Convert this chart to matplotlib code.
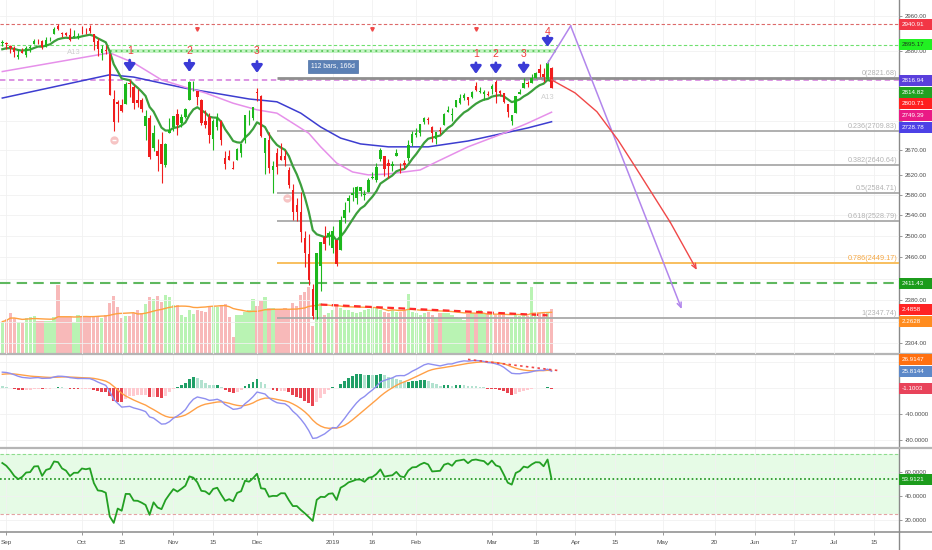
import numpy as np
import pandas as pd
import matplotlib
matplotlib.use('Agg')
import matplotlib.pyplot as plt
from matplotlib.patches import Rectangle
from matplotlib.lines import Line2D
from matplotlib.ticker import FixedLocator, NullLocator, FuncFormatter

plt.rcParams['font.family'] = ['Liberation Sans', 'DejaVu Sans']

# ------------------------------------------------------------------ data
holidays = ['2018-09-03', '2018-11-22', '2018-12-05', '2018-12-25',
            '2019-01-01', '2019-01-21', '2019-02-18']
dates = pd.bdate_range('2018-08-31', '2019-03-22')
dates = dates[~dates.isin(pd.to_datetime(holidays))]

open_ = [2898.37,
         2896.96, 2891.59, 2888.64, 2868.26, 2881.39, 2871.57, 2888.29, 2896.85, 2906.38, 2903.83,
         2890.74, 2906.60, 2919.73, 2936.76, 2921.83, 2921.75, 2916.98, 2911.65, 2910.03,
         2926.29, 2923.80, 2931.69, 2919.35, 2902.54, 2877.53, 2882.51, 2873.90, 2776.87, 2770.54,
         2763.83, 2767.05, 2811.67, 2802.00, 2775.66, 2773.94, 2721.03, 2737.87, 2674.88, 2667.86,
         2682.65, 2640.68, 2705.60,
         2717.58, 2745.45, 2726.37, 2738.40, 2774.13, 2806.38, 2794.10, 2773.93, 2730.05, 2737.90,
         2693.52, 2718.54, 2730.74, 2654.60, 2657.74, 2633.36, 2649.97, 2663.75, 2691.45, 2736.97,
         2737.76,
         2790.50, 2782.43, 2663.51, 2691.26, 2630.86, 2664.44, 2658.23, 2658.70, 2629.68, 2590.75,
         2559.90, 2547.05, 2496.77, 2465.38, 2400.56, 2363.12, 2442.50, 2498.77, 2498.94,
         2476.96, 2491.92, 2474.33, 2535.61, 2568.11, 2580.00, 2573.51, 2588.11, 2580.31, 2585.10,
         2614.75, 2609.28, 2651.27, 2657.88, 2643.48, 2638.84, 2657.44, 2644.97, 2644.89, 2653.62,
         2685.49,
         2702.32, 2706.49, 2728.34, 2735.05, 2717.53, 2692.36, 2712.40, 2722.61, 2750.30, 2743.50,
         2760.24, 2769.28, 2779.05, 2780.67, 2780.67, 2804.35, 2792.36, 2787.50, 2788.11,
         2798.22, 2814.37, 2794.41, 2790.27, 2766.53, 2730.79, 2747.61, 2787.34, 2799.78, 2810.38,
         2810.79, 2822.61, 2840.76, 2831.34, 2819.72, 2844.52]
high_ = [2906.32,
         2900.18, 2894.21, 2892.05, 2883.81, 2886.93, 2892.52, 2894.65, 2906.76, 2908.30, 2904.65,
         2911.17, 2912.36, 2934.80, 2940.91, 2923.79, 2923.95, 2931.15, 2927.22, 2920.53,
         2937.06, 2931.42, 2939.86, 2919.78, 2909.64, 2893.83, 2894.83, 2874.02, 2795.14, 2775.77,
         2775.99, 2813.46, 2816.94, 2806.04, 2797.77, 2778.94, 2753.59, 2742.59, 2722.70, 2692.38,
         2706.85, 2685.43, 2736.69,
         2741.67, 2756.55, 2744.27, 2756.82, 2815.15, 2814.75, 2794.10, 2775.99, 2754.60, 2746.80,
         2735.38, 2746.75, 2733.16, 2669.44, 2670.73, 2647.55, 2674.35, 2682.53, 2744.00, 2753.75,
         2760.88,
         2800.18, 2785.93, 2696.15, 2708.54, 2647.51, 2674.35, 2685.44, 2670.19, 2635.07, 2601.13,
         2573.99, 2585.29, 2509.63, 2504.41, 2410.34, 2467.76, 2489.10, 2520.27, 2509.24,
         2519.49, 2493.14, 2538.07, 2566.16, 2579.82, 2595.32, 2597.82, 2596.27, 2589.32, 2613.08,
         2625.76, 2645.06, 2675.47, 2657.88, 2653.19, 2647.20, 2672.38, 2644.97, 2650.93, 2690.44,
         2708.95,
         2716.66, 2724.99, 2738.98, 2738.08, 2719.32, 2708.07, 2718.05, 2748.19, 2761.85, 2757.90,
         2775.66, 2787.33, 2789.88, 2781.58, 2794.20, 2813.49, 2803.12, 2795.76, 2793.73,
         2808.02, 2816.88, 2796.44, 2790.27, 2767.25, 2744.13, 2784.00, 2798.32, 2821.24, 2815.00,
         2830.73, 2835.41, 2852.42, 2843.54, 2860.31, 2846.16]
low_ = [2891.73,
        2885.13, 2876.92, 2867.29, 2864.12, 2875.94, 2866.78, 2879.20, 2896.39, 2895.77, 2886.16,
        2890.43, 2903.82, 2919.73, 2927.11, 2912.63, 2913.70, 2903.28, 2909.27, 2907.50,
        2917.91, 2919.37, 2921.36, 2883.92, 2869.29, 2862.08, 2874.27, 2784.86, 2710.51, 2729.44,
        2749.03, 2766.91, 2781.81, 2755.18, 2760.27, 2749.22, 2691.43, 2651.89, 2667.84, 2628.16,
        2603.54, 2635.34, 2705.60,
        2708.85, 2700.44, 2717.94, 2737.08, 2774.13, 2794.99, 2764.24, 2722.00, 2714.98, 2685.75,
        2670.75, 2712.16, 2681.09, 2631.52, 2649.82, 2631.09, 2649.97, 2655.89, 2684.38, 2722.94,
        2732.76,
        2773.38, 2697.18, 2621.53, 2623.14, 2583.23, 2621.30, 2650.26, 2637.27, 2593.84, 2530.54,
        2528.71, 2488.96, 2441.18, 2408.55, 2346.58, 2346.58, 2397.94, 2472.89, 2482.82,
        2467.47, 2443.96, 2474.33, 2524.56, 2547.56, 2568.89, 2562.02, 2577.40, 2570.41, 2585.10,
        2612.68, 2606.36, 2647.58, 2617.27, 2612.86, 2627.01, 2657.33, 2624.06, 2631.05, 2648.34,
        2678.65,
        2696.88, 2698.75, 2724.03, 2724.15, 2687.26, 2681.83, 2703.79, 2722.61, 2748.63, 2731.23,
        2760.24, 2767.29, 2774.06, 2764.55, 2779.11, 2794.99, 2789.47, 2775.13, 2782.51,
        2787.38, 2767.66, 2782.97, 2768.69, 2739.09, 2722.27, 2747.61, 2786.73, 2799.78, 2803.46,
        2810.79, 2821.99, 2823.27, 2812.43, 2817.38, 2800.47]
close_ = [2901.52,
          2896.72, 2888.60, 2878.05, 2871.68, 2877.13, 2887.89, 2888.92, 2904.18, 2904.98, 2888.80,
          2904.31, 2907.95, 2930.75, 2929.67, 2919.37, 2915.56, 2905.97, 2914.00, 2913.98,
          2924.59, 2923.43, 2925.51, 2901.61, 2885.57, 2884.43, 2880.34, 2785.68, 2728.37, 2767.13,
          2750.79, 2809.92, 2809.21, 2768.78, 2767.78, 2755.88, 2740.69, 2656.10, 2705.57, 2658.69,
          2641.25, 2682.63, 2711.74,
          2740.37, 2723.06, 2738.31, 2755.45, 2813.89, 2806.83, 2781.01, 2726.22, 2722.18, 2701.58,
          2730.20, 2736.27, 2690.73, 2641.89, 2649.93, 2632.56, 2673.45, 2682.17, 2743.79, 2737.80,
          2760.17,
          2790.37, 2700.06, 2695.95, 2633.08, 2637.72, 2636.78, 2651.07, 2650.54, 2599.95, 2545.94,
          2546.16, 2506.96, 2467.42, 2416.62, 2351.10, 2467.70, 2488.83, 2485.74, 2506.85,
          2510.03, 2447.89, 2531.94, 2549.69, 2574.41, 2584.96, 2596.64, 2596.26, 2582.61, 2610.30,
          2616.10, 2635.96, 2670.71, 2632.90, 2638.70, 2642.33, 2664.76, 2643.85, 2640.00, 2681.05,
          2704.10,
          2706.53, 2724.87, 2737.70, 2731.61, 2706.05, 2707.88, 2709.80, 2744.73, 2753.03, 2745.73,
          2775.60, 2779.76, 2784.70, 2774.88, 2792.67, 2796.11, 2793.90, 2792.38, 2784.49,
          2803.69, 2792.81, 2789.65, 2771.45, 2748.93, 2743.07, 2783.30, 2791.52, 2810.92, 2808.48,
          2822.48, 2832.94, 2832.57, 2824.23, 2854.88, 2800.71]
# closes before the visible window, only used to warm up EMA / MACD / RSI
warmup_close = [2726.71, 2713.22, 2736.61, 2759.82, 2784.17, 2793.84, 2774.02, 2798.29, 2801.31,
                2798.43, 2809.55, 2815.62, 2804.49, 2801.83, 2806.98, 2820.40, 2846.07, 2837.44,
                2818.82, 2802.60, 2816.29, 2813.36, 2827.22, 2840.35, 2850.40, 2858.45, 2857.70,
                2853.58, 2833.28, 2821.93, 2839.96, 2818.37, 2840.69, 2850.13, 2857.05, 2862.96,
                2861.82, 2856.98, 2874.69, 2896.74, 2897.52, 2914.04, 2901.13]
volume_bn = [1.80, 1.93, 2.26, 2.02, 1.80, 1.74, 2.02, 2.08, 2.11, 1.85, 1.85, 1.85, 1.85, 2.08,
             3.84, 2.08, 2.08, 2.04, 1.80, 2.17, 2.13, 2.04, 2.11, 2.08, 2.11, 2.02, 2.17,
             2.82, 3.24, 2.63, 2.02, 2.11, 2.11, 2.30, 2.45, 2.26, 2.78, 3.15, 3.04, 3.22, 2.91, 3.28, 3.19,
             2.72, 2.72, 2.17, 2.08, 2.45, 2.22, 2.45, 2.41, 2.35, 2.67, 2.63, 2.63, 2.71, 2.78, 2.04,
             0.96, 2.19, 2.17, 2.35, 2.45, 3.04,
             2.67, 2.97, 3.15, 2.54, 2.54, 2.45, 2.48, 2.54, 2.45, 2.82, 2.67, 3.30, 3.45, 3.75, 1.56,
             2.72, 2.82, 2.17, 2.26,
             2.45, 2.67, 2.54, 2.45, 2.45, 2.35, 2.30, 2.35, 2.45, 2.48, 2.54, 2.58, 2.45, 2.35, 2.30,
             2.45, 2.35, 2.35, 2.45, 3.34, 2.35,
             2.26, 2.17, 2.30, 2.35, 2.17, 1.98, 2.26, 2.26, 2.30, 2.17, 2.08, 1.98, 1.89, 2.24, 2.26,
             2.26, 2.45, 2.30, 2.26,
             2.35, 2.17, 2.26, 2.17, 2.08, 2.08, 2.17, 2.13, 2.17, 2.13, 3.74, 2.26, 2.26, 2.26, 2.35, 2.49]

# slow moving averages (bar index, value)
ma50_idx = [-1, 26, 32, 39, 45, 50, 57, 63, 68, 72, 76, 79, 83, 87, 91, 96, 104, 108, 116, 125, 131, 137]
ma50_val = [2836, 2877, 2855, 2818, 2802, 2790, 2768, 2754, 2747, 2726, 2705, 2677, 2644, 2626,
            2620, 2622, 2630, 2646, 2677, 2705, 2726, 2749]
ma100_idx = [-1, 26, 32, 39, 45, 52, 61, 68, 74, 79, 84, 89, 96, 106, 116, 126, 131, 137]
ma100_val = [2779, 2829, 2824, 2811, 2800, 2790, 2777, 2771, 2747, 2718, 2695, 2683, 2677, 2677,
             2689, 2707, 2716, 2729]

fib_ratio = ['0', '0.236', '0.382', '0.5', '0.618', '0.786', '1']
fib_price = [2821.68, 2709.83, 2640.64, 2584.71, 2528.79, 2449.17, 2347.74]
fib_start_idx = 68

hline_red = 2940.91
hline_green = 2895.17
hline_violet = 2816.94
hline_support = 2411.43
band_idx = [26, 138]
band_low, band_high = 2876, 2886

sig_idx = [31, 46, 63, 118, 123, 130, 136]
sig_num = ['1', '2', '3', '1', '2', '3', '4']
sig_tip = [2835, 2835, 2833, 2831, 2831, 2831, 2890]
sig_tail = [2861, 2861, 2858, 2855, 2855, 2855, 2914]
sig_lab = [2880, 2881, 2881, 2874, 2874, 2874, 2924]
small_red_idx = [48, 92, 118]
small_red_price = 2930

proj_purple_idx = [136, 141.8, 169.7]
proj_purple_val = [2854, 2937, 2364]
proj_red_idx = [137.0, 142.9, 148.4, 153.7, 157.9, 161.7, 166.8, 173.5]
proj_red_val = [2818, 2790, 2750, 2691, 2638, 2590, 2527, 2436]

vol_trend_idx = [79, 136]
vol_trend_val = [2.75, 2.15]
macd_trend_idx = [116, 139]
macd_trend_val = [44.0, 26.6]

tick_dates = ['2018-09-04', '2018-10-01', '2018-10-15', '2018-11-01', '2018-11-15', '2018-12-03',
              '2019-01-02', '2019-01-16', '2019-02-01', '2019-03-01', '2019-03-18', '2019-04-01',
              '2019-04-15', '2019-05-01', '2019-05-20', '2019-06-03', '2019-06-17', '2019-07-01',
              '2019-07-15']
tick_labels = ['Sep', 'Oct', '15', 'Nov', '15', 'Dec', '2019', '16', 'Feb', 'Mar', '18', 'Apr',
               '15', 'May', '20', 'Jun', '17', 'Jul', '15']
price_ticks = [2960, 2880, 2800, 2730, 2670, 2620, 2580, 2540, 2500, 2460, 2420, 2380, 2340, 2304]
macd_ticks = [40, 0, -40, -80]
rsi_ticks = [20, 40, 60]

last_labels_macd = [26.9147, 25.8144, -1.1003]
last_label_rsi = 53.9121
last_labels_price = [2940.91, 2895.17, 2816.94, 2814.82, 2800.71, 2749.39, 2728.78, 2411.43]
last_labels_vol = [2.4858, 2.2628]

# ------------------------------------------------------------------ layout
W, H = 932, 550
fig = plt.figure(figsize=(W / 100, H / 100), dpi=100, facecolor='white')
XR = 899
P1, P2, P3 = 354, 447.7, 531.7
ax = fig.add_axes([0, 1 - P1 / H, XR / W, P1 / H])
axm = fig.add_axes([0, 1 - P2 / H, XR / W, (P2 - P1) / H], sharex=ax)
axr = fig.add_axes([0, 1 - P3 / H, XR / W, (P3 - P2) / H], sharex=ax)
axv = ax.twinx()
axv.set_zorder(1)
ax.set_zorder(2)
ax.patch.set_visible(False)

n = len(dates)
xs = np.arange(n) - 1
last_i = n - 2


def date_pos(d):
    d = pd.Timestamp(d)
    if d <= dates[-1]:
        return int(np.where(dates == d)[0][0]) - 1
    return last_i + len(pd.bdate_range(dates[-1] + pd.Timedelta(days=1), d))


tick_pos = [date_pos(d) for d in tick_dates]
XMIN, XMAX = -1.58, 224.3
ax.set_xlim(XMIN, XMAX)

GRID = '#f1f1f1'
TXT = '#4d4d4d'
hidden = {'p': set(), 'm': set(), 'r': set()}


def make_fmt(key, fmt):
    return FuncFormatter(lambda v, _: '' if round(v, 4) in hidden[key] else fmt.format(v))


for a in (ax, axm, axr):
    for s in a.spines.values():
        s.set_visible(False)
    a.set_xticks(tick_pos)
    a.grid(True, color=GRID, lw=0.6)
    a.set_axisbelow(True)
    a.yaxis.tick_right()
    a.tick_params(axis='y', length=2.5, width=0.6, color='#888', labelsize=4.4,
                  labelcolor=TXT, pad=1.5)
for a in (ax, axm):
    a.tick_params(axis='x', length=0, labelbottom=False)
axr.set_xticklabels(tick_labels)
axr.tick_params(axis='x', length=2.5, width=0.6, color='#888', labelsize=4.6,
                labelcolor=TXT, pad=3.5)

# ------------------------------------------------------------------ price pane
ax.set_yscale('log')
ax.set_ylim(2284.1, 2995.8)
ax.yaxis.set_major_locator(FixedLocator(price_ticks))
ax.yaxis.set_minor_locator(NullLocator())
ax.yaxis.set_major_formatter(make_fmt('p', '{:.2f}'))

o, h, l, c = map(np.array, (open_, high_, low_, close_))
GREEN, RED = '#1cb81c', '#f01d1d'
up = c >= o
ccol = np.where(up, GREEN, RED)

# volume overlay
vol = np.array(volume_bn)
vcol = np.where(up, '#b9f3b3', '#f8b9b9')
axv.set_ylim(0, P1 * 2.4858 / 44.7)
axv.bar(xs, vol, width=0.82, color=vcol, linewidth=0, zorder=1)
vol_ma = pd.Series(vol).rolling(20, min_periods=1).mean().values
axv.plot(xs, vol_ma, color='#ffa040', lw=1.0, zorder=2)
axv.plot(vol_trend_idx, vol_trend_val, color='#ff2a2a', lw=1.6, ls=(0, (3, 2)), zorder=3)
axv.set_yticks([])
for s in axv.spines.values():
    s.set_visible(False)

# horizontal levels
ax.axhline(hline_red, color='#dd6a6a', lw=0.8, ls=(0, (3, 2)), zorder=2)
ax.axhline(hline_green, color='#6fe06f', lw=0.8, ls=(0, (3, 2)), zorder=2)
ax.axhline(hline_violet, color='#d98ce0', lw=1.3, ls=(0, (3, 2)), zorder=2)
ax.axhline(hline_support, color='#5fb85f', lw=1.5, ls=(0, (5, 3)), zorder=2)
ax.fill_between(band_idx, band_low, band_high, color='#c4f3c4', lw=0, zorder=2)
ax.plot(band_idx, [(band_low + band_high) / 2] * 2, color='#56c456', lw=1.3, ls=(0, (1, 2)), zorder=2)

# fibonacci retracement
for r, p in zip(fib_ratio, fib_price):
    if r == '0':
        colr, lw = '#8f8f8f', 2.0
    elif r == '0.786':
        colr, lw = '#f8bf5e', 1.4
    else:
        colr, lw = '#a9a9a9', 1.3
    ax.plot([fib_start_idx, XMAX], [p, p], color=colr, lw=lw, zorder=2, solid_capstyle='butt')
    ax.annotate(f'{r}({p:.2f})', xy=(0.998, p), xycoords=('axes fraction', 'data'),
                xytext=(0, 3.3), textcoords='offset points', ha='right', va='center',
                fontsize=5.2, color='#f5a742' if r == '0.786' else '#b3b3b3', zorder=3)

# moving averages
ax.plot(ma100_idx, ma100_val, color='#3d3dd0', lw=1.1, zorder=3)
ax.plot(ma50_idx, ma50_val, color='#e690ea', lw=1.1, zorder=3)
full_close = pd.Series(warmup_close + close_)
ema10 = full_close.ewm(span=10, adjust=False).mean().values[-n:]
ax.plot(xs, ema10, color='#3c9f3c', lw=1.6, zorder=4)

# candles
ax.vlines(xs, l, h, colors=ccol, lw=0.8, zorder=5)
body_lo = np.minimum(o, c)
body_h = np.maximum(np.abs(c - o), 0.9)
ax.bar(xs, body_h, bottom=body_lo, width=0.62, color=ccol, linewidth=0, zorder=6)

# projections
ax.plot(proj_purple_idx[:2], proj_purple_val[:2], color='#b286ec', lw=1.1, zorder=7)
ax.annotate('', xy=(proj_purple_idx[2], proj_purple_val[2]),
            xytext=(proj_purple_idx[1], proj_purple_val[1]),
            arrowprops=dict(arrowstyle='->,head_width=0.15,head_length=0.35', color='#b286ec',
                            lw=1.1, shrinkA=0, shrinkB=0), zorder=7)
ax.plot(proj_red_idx[:-1], proj_red_val[:-1], color='#f04848', lw=1.0, zorder=7)
ax.annotate('', xy=(proj_red_idx[-1], proj_red_val[-1]),
            xytext=(proj_red_idx[-2], proj_red_val[-2]),
            arrowprops=dict(arrowstyle='->,head_width=0.15,head_length=0.35', color='#f04848',
                            lw=1.0, shrinkA=0, shrinkB=0), zorder=7)

# signal arrows and counts
for i, num, tip, tail, lab in zip(sig_idx, sig_num, sig_tip, sig_tail, sig_lab):
    ax.annotate('', xy=(i, tip), xytext=(i, tail),
                arrowprops=dict(arrowstyle='-|>,head_width=0.32,head_length=0.45',
                                color='#3b3bd6', lw=2.0, shrinkA=0, shrinkB=0,
                                mutation_scale=10), zorder=9)
    ax.text(i, lab, num, color='#f03c3c', fontsize=7.5, ha='center', va='center', zorder=9)
ax.plot(small_red_idx, [small_red_price] * len(small_red_idx), 'v', color='#f04848',
        ms=2.5, zorder=8)

# misc chart markers
ax.text(17, 2876.6, 'A13', fontsize=5.5, color='#cfcfcf', ha='center', va='center', zorder=8)
ax.text(136, 2781, 'A13', fontsize=5.5, color='#cfcfcf', ha='center', va='center', zorder=8)
ax.plot([27, 70.5], [2691, 2574], 'o', color='#f6c4c4', ms=5, zorder=8)
ax.plot([27, 70.5], [2691, 2574], '_', color='white', ms=3, mew=1, zorder=8)
ax.text(82, 2848, '112 bars, 166d', ha='center', va='center', fontsize=4.8, color='white',
        bbox=dict(boxstyle='square,pad=0.45', fc='#5b80b5', ec='#4b6fa5', lw=0.5), zorder=10)

# ------------------------------------------------------------------ MACD pane
ema12 = full_close.ewm(span=12, adjust=False).mean()
ema26 = full_close.ewm(span=26, adjust=False).mean()
macd_full = ema12 - ema26
sig_full = macd_full.ewm(span=9, adjust=False).mean()
hist_full = (macd_full - sig_full).values
macd = macd_full.values[-n:]
sigl = sig_full.values[-n:]
hist = hist_full[-n:]
prev = hist_full[-n - 1:-1]
hcol = np.where(hist >= 0, np.where(hist > prev, '#1f9f66', '#b3e2d0'),
                np.where(hist < prev, '#e8434f', '#ffcad0'))
axm.set_ylim(-91.8, 52.3)
axm.yaxis.set_major_locator(FixedLocator(macd_ticks))
axm.yaxis.set_major_formatter(make_fmt('m', '{:.4f}'))
axm.bar(xs, hist, width=0.7, color=hcol, linewidth=0, zorder=2)
axm.plot(xs, sigl, color='#ffa047', lw=1.0, zorder=3)
axm.plot(xs, macd, color='#8f8ff0', lw=1.0, zorder=4)
axm.plot(macd_trend_idx, macd_trend_val, color='#f04848', lw=1.2, ls=(0, (1.5, 2)), zorder=5)

# ------------------------------------------------------------------ RSI pane
delta = full_close.diff().fillna(0)
gain = delta.clip(lower=0).ewm(alpha=1 / 14, adjust=False).mean()
loss = (-delta.clip(upper=0)).ewm(alpha=1 / 14, adjust=False).mean()
rsi = (100 - 100 / (1 + gain / loss)).values[-n:]
axr.set_ylim(10.25, 80)
axr.yaxis.set_major_locator(FixedLocator(rsi_ticks))
axr.yaxis.set_major_formatter(make_fmt('r', '{:.4f}'))
axr.axhspan(25, 75, color='#e6fbe6', lw=0, zorder=0)
axr.axhline(75, color='#8edc8e', lw=0.8, ls=(0, (3, 2)))
axr.axhline(25, color='#e3a3a3', lw=0.8, ls=(0, (3, 2)))
axr.axhline(last_label_rsi, color='#1a8f1a', lw=1.2, ls=(0, (1, 1.5)))
axr.plot(xs, rsi, color='#23a023', lw=1.3, zorder=3)

# ------------------------------------------------------------------ frame lines
fig.add_artist(Line2D([XR / W, XR / W], [0, 1], transform=fig.transFigure, color='#8a8a8a', lw=1.0))
for yy, colr, lw in ((P1, '#b5b5b5', 1.6), (P2, '#b5b5b5', 1.6), (P3, '#8a8a8a', 1.1)):
    fig.add_artist(Line2D([0, 1], [1 - yy / H] * 2, transform=fig.transFigure, color=colr, lw=lw))


# ------------------------------------------------------------------ axis value labels
def ypix(a, v):
    return H - a.transData.transform((0, v))[1]


box_ys = []


def box(ypx, text, bg, fg='white'):
    box_ys.append(ypx)
    fig.add_artist(Rectangle((XR / W, 1 - (ypx + 5.5) / H), (W - XR) / W, 11 / H,
                             transform=fig.transFigure, facecolor=bg, edgecolor='none', zorder=20))
    fig.text((XR + 2.5) / W, 1 - ypx / H, text, color=fg, fontsize=4.5, va='center', ha='left',
             zorder=21)


price_bg = ['#f23645', '#22f022', '#5a3fdc', '#21a121', '#ff1f1f', '#ea1a85', '#4d41e6', '#1c9c1c']
price_fg = ['white', '#1e3b1e', 'white', 'white', 'white', 'white', 'white', 'white']
items = [(ypix(ax, v), f'{v:.2f}', b, f) for v, b, f in zip(last_labels_price, price_bg, price_fg)]
items += [(ypix(axv, v), f'{v:.4f}', b, 'white')
          for v, b in zip(last_labels_vol, ['#ff2424', '#ff8c1f'])]
items.sort(key=lambda t: t[0])
ys = [t[0] for t in items]
for k in range(1, len(ys)):
    ys[k] = max(ys[k], ys[k - 1] + 11.8)
for yv, t in zip(ys, items):
    box(yv, t[1], t[2], t[3])

mitems = [(ypix(axm, v), f'{v:.4f}', b) for v, b in
          zip(last_labels_macd, ['#ff7010', '#5c88c8', '#e8435a'])]
mitems.sort(key=lambda t: -t[0])
mys = [t[0] for t in mitems]
for k in range(1, len(mys)):
    mys[k] = min(mys[k], mys[k - 1] - 11.8)
for yv, t in zip(mys, mitems):
    box(yv, t[1], t[2])
box(ypix(axr, last_label_rsi), f'{last_label_rsi:.4f}', '#1c9c1c')

# tick labels that sit under a value box are covered, as on the original chart
for key, a, ticks in (('p', ax, price_ticks), ('m', axm, macd_ticks), ('r', axr, rsi_ticks)):
    for t in ticks:
        yt = ypix(a, t)
        if any(abs(yt - yb) < 6.5 for yb in box_ys):
            hidden[key].add(round(float(t), 4))

fig.savefig('out.png', dpi=100, facecolor='white')
